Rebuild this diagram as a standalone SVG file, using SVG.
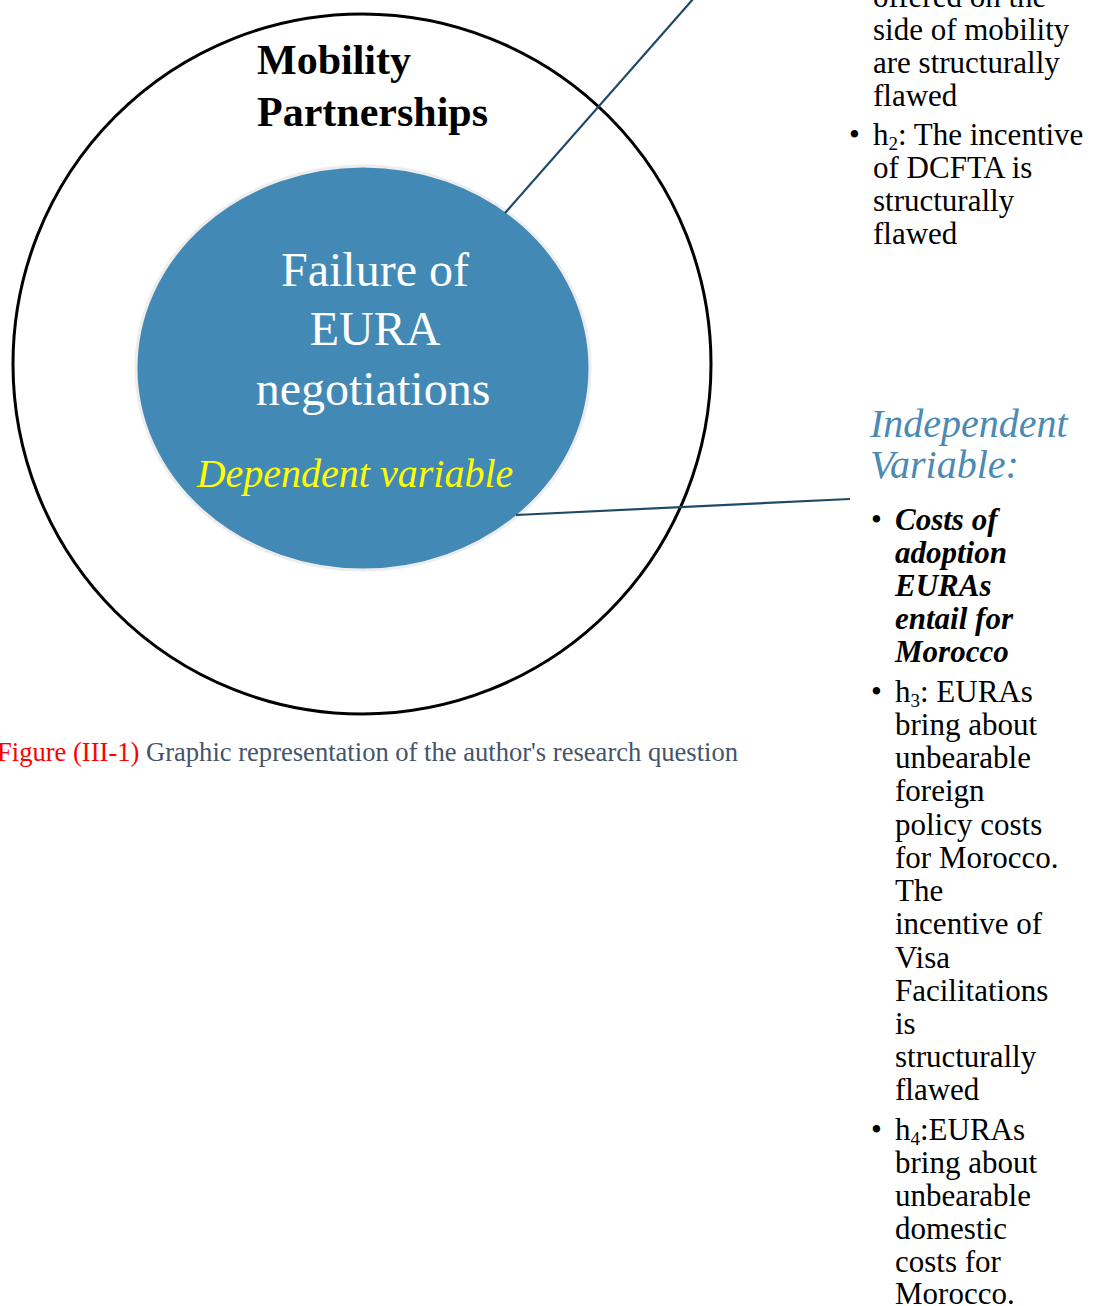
<svg xmlns="http://www.w3.org/2000/svg" width="1095" height="1306" viewBox="0 0 1095 1306">
<style>
.t{font-family:"Liberation Serif","Times New Roman",serif;font-size:31px;fill:#000}
.bi{font-family:"Liberation Serif","Times New Roman",serif;font-size:31px;font-weight:bold;font-style:italic;fill:#000}
.sub{font-size:19px}
.conn{stroke:#1F4A66;stroke-width:2.2;fill:none}
</style>
<rect width="1095" height="1306" fill="#fff"/>
<g id="outer">
<ellipse cx="362" cy="364" rx="349" ry="350" fill="none" stroke="#000" stroke-width="3"/>
<text font-family="Liberation Serif, serif" font-weight="bold" font-size="42" x="257" y="74">Mobility</text>
<text font-family="Liberation Serif, serif" font-weight="bold" font-size="42" x="257" y="126">Partnerships</text>
</g>
<g id="inner">
<ellipse cx="363" cy="368" rx="227" ry="202" fill="#4389B5" stroke="#EDEDED" stroke-width="3"/>
<g font-family="Liberation Serif, serif" font-size="48" fill="#fff" text-anchor="middle">
<text x="375" y="286">Failure of</text>
<text x="375" y="345">EURA</text>
<text x="373" y="405">negotiations</text>
</g>
<text x="355" y="487" font-family="Liberation Serif, serif" font-style="italic" font-size="40" fill="#FFFF00" text-anchor="middle">Dependent variable</text>
</g>
<g id="connectors">
<line class="conn" x1="505" y1="213" x2="694" y2="-2"/>
<line class="conn" x1="516" y1="515" x2="850" y2="499"/>
</g>
<g id="hypotheses-top">
<text class="t" x="873" y="7">offered on the</text>
<text class="t" x="873" y="40">side of mobility</text>
<text class="t" x="873" y="73">are structurally</text>
<text class="t" x="873" y="106">flawed</text>
<text class="t" x="849" y="145">•</text>
<text class="t" x="873" y="145">h<tspan class="sub" dy="5">2</tspan><tspan dy="-5">: The incentive</tspan></text>
<text class="t" x="873" y="178">of DCFTA is</text>
<text class="t" x="873" y="211">structurally</text>
<text class="t" x="873" y="244">flawed</text>
</g>
<g id="independent">
<text x="870" y="437" font-family="Liberation Serif, serif" font-style="italic" font-size="40" fill="#4A8AB5">Independent</text>
<text x="870" y="478" font-family="Liberation Serif, serif" font-style="italic" font-size="40" fill="#4A8AB5">Variable:</text>
<text class="t" x="871" y="530">•</text>
<text class="bi" x="895" y="530">Costs of</text>
<text class="bi" x="895" y="563">adoption</text>
<text class="bi" x="895" y="596">EURAs</text>
<text class="bi" x="895" y="629">entail for</text>
<text class="bi" x="895" y="662">Morocco</text>
<text class="t" x="871" y="702">•</text>
<text class="t" x="895" y="702">h<tspan class="sub" dy="5">3</tspan><tspan dy="-5">: EURAs</tspan></text>
<text class="t" x="895" y="735">bring about</text>
<text class="t" x="895" y="768">unbearable</text>
<text class="t" x="895" y="801">foreign</text>
<text class="t" x="895" y="835">policy costs</text>
<text class="t" x="895" y="868">for Morocco.</text>
<text class="t" x="895" y="901">The</text>
<text class="t" x="895" y="934">incentive of</text>
<text class="t" x="895" y="968">Visa</text>
<text class="t" x="895" y="1001">Facilitations</text>
<text class="t" x="895" y="1034">is</text>
<text class="t" x="895" y="1067">structurally</text>
<text class="t" x="895" y="1100">flawed</text>
<text class="t" x="871" y="1140">•</text>
<text class="t" x="895" y="1140">h<tspan class="sub" dy="5">4</tspan><tspan dy="-5">:EURAs</tspan></text>
<text class="t" x="895" y="1173">bring about</text>
<text class="t" x="895" y="1206">unbearable</text>
<text class="t" x="895" y="1239">domestic</text>
<text class="t" x="895" y="1272">costs for</text>
<text class="t" x="895" y="1304">Morocco.</text>
</g>
<g id="caption">
<text x="-3" y="761" font-family="Liberation Serif, serif" font-size="27" textLength="741" lengthAdjust="spacingAndGlyphs"><tspan fill="#FF0000">Figure (III-1) </tspan><tspan fill="#44546A">Graphic representation of the author's research question</tspan></text>
</g>
</svg>
